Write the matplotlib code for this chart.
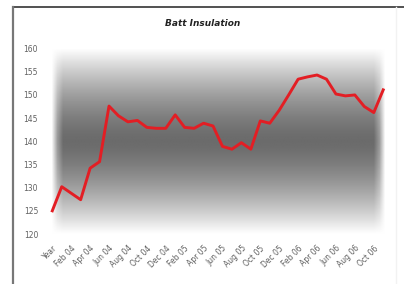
import numpy as np
import matplotlib
matplotlib.use("Agg")
import matplotlib.pyplot as plt
from matplotlib.lines import Line2D

# monthly categories, first row of the sheet was the "Year" header
months = ["Year"] + [m + " " + y for y in ["04", "05", "06"]
                     for m in ["Jan", "Feb", "Mar", "Apr", "May", "Jun",
                               "Jul", "Aug", "Sep", "Oct", "Nov", "Dec"]][:35]

values = [125.0, 130.2, 128.8, 127.4, 134.2, 135.6, 147.6, 145.5, 144.2, 144.5,
          143.0, 142.8, 142.8, 145.7, 143.0, 142.8, 143.9, 143.3, 138.9, 138.3,
          139.7, 138.3, 144.4, 143.9, 146.7, 150.0, 153.4, 153.9, 154.3, 153.4,
          150.2, 149.8, 150.0, 147.5, 146.2, 151.1]

yticks = [120, 125, 130, 135, 140, 145, 150, 155, 160]

W, H = 404, 284
fig = plt.figure(figsize=(W / 100, H / 100), dpi=100)

# outer frame of the original chart object
fig.add_artist(Line2D([13 / W, 1], [1 - 6.5 / H, 1 - 6.5 / H], color="#333333", lw=1.2))
fig.add_artist(Line2D([12.5 / W, 12.5 / W], [0, 1 - 6.5 / H], color="#777777", lw=1.6))
fig.add_artist(Line2D([396 / W, 396 / W], [0, 1 - 7 / H], color="#f2f2f2", lw=1.0))

left, right = 48.5 / W, 387 / W
bottom, top = 1 - 234 / H, 1 - 48.6 / H
ax = fig.add_axes([left, bottom, right - left, top - bottom])

# gray band background, dark in the middle, white at top and bottom
t = np.linspace(-1, 1, 200)
shade = 0.42 + 0.58 * np.abs(t) ** 1.5
xs = np.linspace(0, 1, 60)
edge = np.clip(np.minimum(xs, 1 - xs) / 0.025, 0, 1)
img = 1 - (1 - shade[:, None]) * edge[None, :]
ax.imshow(img, cmap="gray", vmin=0, vmax=1, aspect="auto",
          extent=[0, 1, 0, 1], transform=ax.transAxes, zorder=0,
          interpolation="bilinear")

x = np.arange(len(values))
ax.plot(x, values, color="#e31e24", lw=2.1, solid_joinstyle="round", zorder=3)

ax.set_xlim(-0.4, len(values) - 0.6)
ax.set_ylim(120, 160)
ax.set_yticks(yticks)
ax.set_yticklabels([str(v) for v in yticks], fontsize=5.5, color="#606060")
ax.set_xticks(x[::2])
ax.set_xticklabels(months[::2], rotation=45, ha="right", rotation_mode="anchor",
                   fontsize=5.5, color="#606060")
ax.tick_params(axis="y", length=0, pad=7.5)
ax.tick_params(axis="x", length=0, pad=7)
for s in ax.spines.values():
    s.set_visible(False)

fig.text(203 / W, 1 - 23 / H, "Batt Insulation", ha="center", va="center",
         fontsize=6.5, fontweight="bold", fontstyle="italic", color="#222222")

fig.savefig("out.png", dpi=100)
